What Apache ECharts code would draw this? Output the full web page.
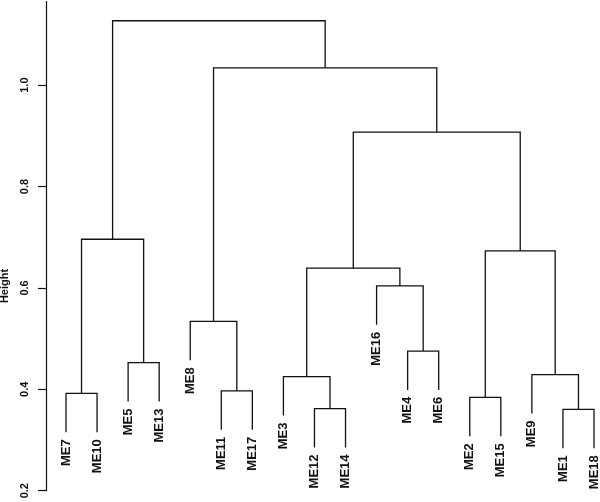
<!DOCTYPE html>
<html>
<head>
<meta charset="utf-8">
<script src="https://cdn.jsdelivr.net/npm/echarts@6/dist/echarts.min.js"></script>
<style>
  html, body { margin: 0; padding: 0; background: #fff; }
  #main { width: 600px; height: 502px; }
</style>
</head>
<body>
<div id="main"></div>
<script>
// leaves in plotting order
const leaves = ['ME7', 'ME10', 'ME5', 'ME13', 'ME8', 'ME11', 'ME17', 'ME3', 'ME12',
  'ME14', 'ME16', 'ME4', 'ME6', 'ME2', 'ME15', 'ME9', 'ME1', 'ME18'];
// merge steps, R style: negative = leaf position, positive = earlier merge step
const mergeLeft  = [-9, -17, -14, -1, -6, -8, -16, -3, -12, -5, -11, 6, 3, 4, 12, 10, 14];
const mergeRight = [-10, -18, -15, -2, -7, 1, 2, -4, -13, 5, 9, 11, 7, 8, 13, 15, 16];
const mergeHeight = [0.362, 0.3605, 0.384, 0.392, 0.397, 0.425, 0.429, 0.4525, 0.4755,
  0.534, 0.604, 0.639, 0.673, 0.696, 0.9075, 1.034, 1.127];
const yTicks = [0.2, 0.4, 0.6, 0.8, 1.0];

// hang like plot.hclust (0.1 of height range)
const hang = 0.1 * (Math.max(...mergeHeight) - Math.min(...mergeHeight));

const nodeX = [];
const leafBottom = [];
function childX(ref) { return ref < 0 ? ref * -1 : nodeX[ref - 1]; }

const segs = [];
for (let i = 0; i < mergeHeight.length; i++) {
  const a = mergeLeft[i], b = mergeRight[i], h = mergeHeight[i];
  const xa = childX(a), xb = childX(b);
  const ha = a < 0 ? h - hang : mergeHeight[a - 1];
  const hb = b < 0 ? h - hang : mergeHeight[b - 1];
  if (a < 0) leafBottom[-a - 1] = ha;
  if (b < 0) leafBottom[-b - 1] = hb;
  nodeX.push((xa + xb) / 2);
  segs.push([xa, ha, xb, hb, h]);
}
const leafData = leaves.map((name, i) => [i + 1, leafBottom[i], name]);

const chart = echarts.init(document.getElementById('main'));
chart.setOption({
  animation: false,
  grid: { left: 66, right: 6, top: 1.5, bottom: 11.3 },
  xAxis: { type: 'value', min: 1, max: leaves.length, show: false },
  yAxis: {
    type: 'value', min: 0.2, max: 1.165, offset: 20,
    splitLine: { show: false },
    axisLine: { show: true, lineStyle: { color: '#111', width: 1.2 } },
    axisTick: { show: true, length: 8, customValues: yTicks, lineStyle: { color: '#111', width: 1.2 } },
    axisLabel: {
      customValues: yTicks, rotate: 90, margin: 16,
      formatter: v => v.toFixed(1),
      color: '#111', fontSize: 11, fontWeight: 'bold', fontFamily: 'Liberation Sans, Arial, sans-serif'
    }
  },
  graphic: [{
    type: 'text', x: 5, y: 286, rotation: Math.PI / 2,
    style: {
      text: 'Height', fill: '#111', align: 'center', verticalAlign: 'middle',
      font: 'bold 11px "Liberation Sans", Arial, sans-serif'
    }
  }],
  series: [
    {
      type: 'custom',
      clip: false,
      data: segs,
      renderItem: function (params, api) {
        const pa = api.coord([api.value(0), api.value(1)]);
        const pb = api.coord([api.value(2), api.value(3)]);
        const ya = api.coord([api.value(0), api.value(4)])[1];
        return {
          type: 'polyline',
          shape: { points: [pa, [pa[0], ya], [pb[0], ya], pb] },
          style: { stroke: '#111', lineWidth: 1.3, fill: null }
        };
      }
    },
    {
      type: 'custom',
      clip: false,
      data: leafData,
      renderItem: function (params, api) {
        const p = api.coord([api.value(0), api.value(1)]);
        return {
          type: 'text',
          x: p[0], y: p[1] + 7, rotation: Math.PI / 2,
          style: {
            text: leafData[params.dataIndex][2], fill: '#111',
            align: 'right', verticalAlign: 'middle',
            font: 'bold 13px "Liberation Sans", Arial, sans-serif'
          }
        };
      }
    }
  ]
});
</script>
</body>
</html>
